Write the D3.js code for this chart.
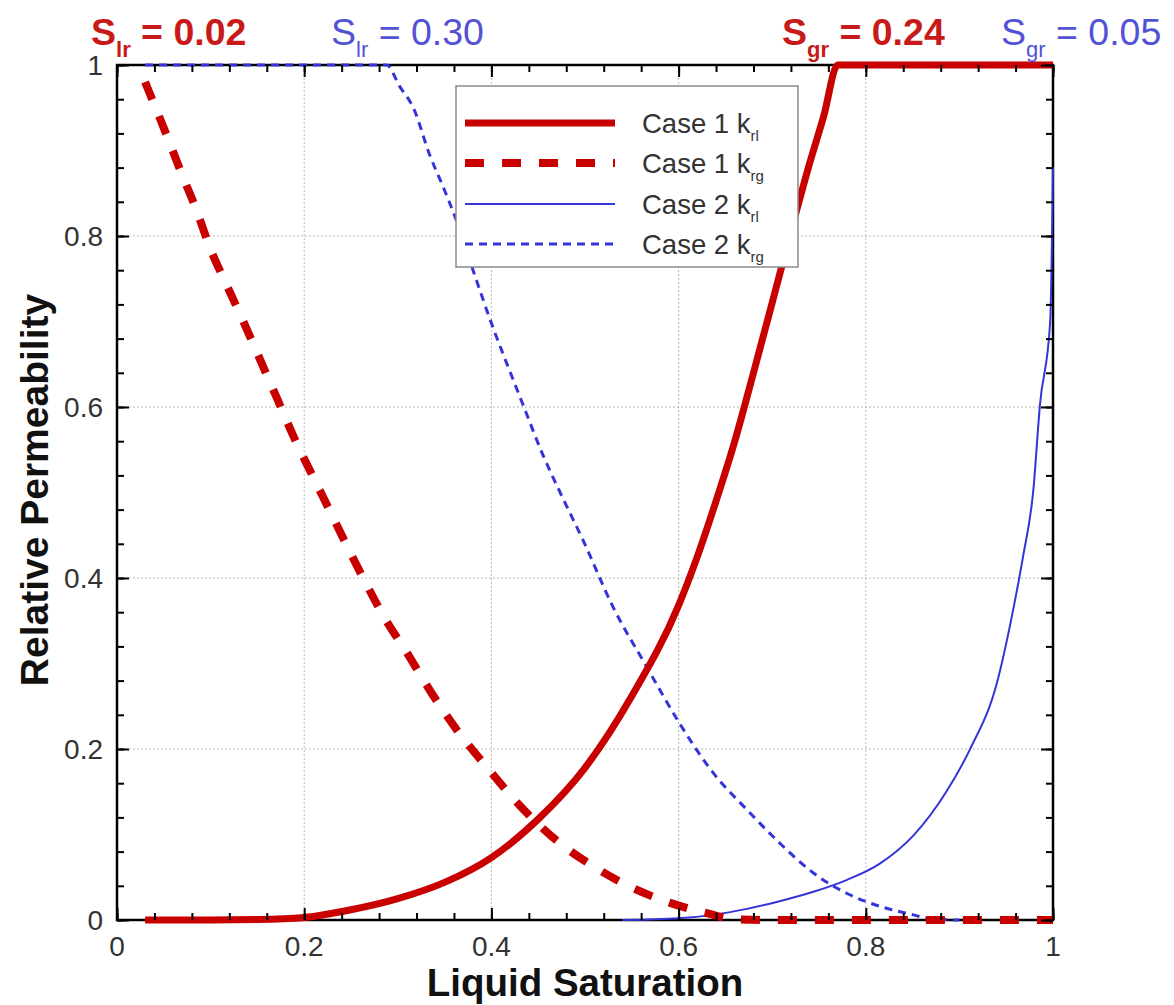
<!DOCTYPE html>
<html>
<head>
<meta charset="utf-8">
<script src="https://cdn.jsdelivr.net/npm/d3@7"></script>
<style>
  html, body { margin: 0; padding: 0; background: #fff; }
  svg { display: block; font-family: "Liberation Sans", Arial, Helvetica, sans-serif; }
</style>
</head>
<body>
<svg id="chart" width="1174" height="1005"></svg>
<script>
// ---------------- data ----------------
const xTicks = [0, 0.2, 0.4, 0.6, 0.8, 1];
const yTicks = [0, 0.2, 0.4, 0.6, 0.8, 1];
const xTickLabels = ["0", "0.2", "0.4", "0.6", "0.8", "1"];
const yTickLabels = ["0", "0.2", "0.4", "0.6", "0.8", "1"];

// Case 1 liquid relative permeability (S, k)
const case1Krl = [
  [0.03,0],[0.10,0],[0.15,0.0005],[0.20,0.003],[0.25,0.012],[0.30,0.025],
  [0.35,0.044],[0.40,0.073],[0.45,0.118],[0.50,0.178],[0.55,0.262],
  [0.60,0.368],[0.62,0.425],[0.64,0.490],[0.66,0.560],[0.68,0.640],
  [0.70,0.722],[0.72,0.805],[0.74,0.885],[0.755,0.940],[0.77,1],[1.0,1]
];
// Case 1 gas relative permeability
const case1Krg = [
  [0.03,0.98],[0.053,0.918],[0.069,0.873],[0.085,0.830],[0.099,0.787],
  [0.117,0.743],[0.135,0.700],[0.153,0.655],[0.171,0.610],[0.188,0.567],
  [0.206,0.526],[0.220,0.495],[0.263,0.400],[0.285,0.355],[0.310,0.312],
  [0.334,0.269],[0.366,0.218],[0.395,0.179],[0.431,0.133],[0.473,0.090],
  [0.510,0.062],[0.548,0.039],[0.591,0.020],[0.630,0.008],[0.66,0.001],
  [0.70,0],[1.0,0]
];
// Case 2 liquid relative permeability
const case2Krl = [
  [0.54,0],[0.60,0.002],[0.637,0.006],[0.673,0.013],[0.708,0.022],
  [0.744,0.033],[0.780,0.047],[0.815,0.066],[0.851,0.099],[0.886,0.150],
  [0.911,0.199],[0.940,0.277],[0.958,0.366],[0.968,0.425],[0.979,0.503],
  [0.986,0.602],[0.997,0.700],[1.0,0.88]
];
// Case 2 gas relative permeability
const case2Krg = [
  [0.03,1],[0.288,1],[0.302,0.975],[0.317,0.949],[0.334,0.895],[0.349,0.856],
  [0.363,0.817],[0.381,0.758],[0.402,0.692],[0.420,0.641],[0.434,0.602],
  [0.455,0.544],[0.473,0.501],[0.498,0.444],[0.530,0.366],[0.566,0.296],
  [0.601,0.230],[0.637,0.172],[0.673,0.129],[0.708,0.090],[0.744,0.055],
  [0.780,0.031],[0.815,0.016],[0.851,0.006],[0.87,0.001],[0.90,0]
];

const legendNames = ["Case 1 k", "Case 1 k", "Case 2 k", "Case 2 k"];
const legendSubs = ["rl", "rg", "rl", "rg"];

const topLabels = [
  { main: "S", sub: "lr", rest: " = 0.02", color: "#c81a1a", bold: true },
  { main: "S", sub: "lr", rest: " = 0.30", color: "#5252d4", bold: false },
  { main: "S", sub: "gr", rest: " = 0.24", color: "#c81a1a", bold: true },
  { main: "S", sub: "gr", rest: " = 0.05", color: "#5252d4", bold: false }
];

// ---------------- layout ----------------
const RED = "#c80000", BLUE = "#3434d8";
const margin = { left: 117, right: 1053, top: 65, bottom: 920 };
const svg = d3.select("#chart");
svg.append("rect").attr("width", 1174).attr("height", 1005).attr("fill", "#fff");

const x = d3.scaleLinear().domain([0, 1]).range([margin.left, margin.right]);
const y = d3.scaleLinear().domain([0, 1]).range([margin.bottom, margin.top]);

// grid
const grid = svg.append("g");
xTicks.slice(1, -1).forEach(t => {
  grid.append("line").attr("x1", x(t)).attr("x2", x(t)).attr("y1", y(0)).attr("y2", y(1))
    .attr("stroke", "#b8b8b8").attr("stroke-width", 1).attr("stroke-dasharray", "2,2");
});
yTicks.slice(1, -1).forEach(t => {
  grid.append("line").attr("y1", y(t)).attr("y2", y(t)).attr("x1", x(0)).attr("x2", x(1))
    .attr("stroke", "#b8b8b8").attr("stroke-width", 1).attr("stroke-dasharray", "2,2");
});

// frame
svg.append("rect").attr("x", x(0)).attr("y", y(1)).attr("width", x(1) - x(0)).attr("height", y(0) - y(1))
  .attr("fill", "none").attr("stroke", "#000").attr("stroke-width", 2.5);

// curves
const line = d3.line().x(d => x(d[0])).y(d => y(d[1])).curve(d3.curveMonotoneX);
const series = [
  { data: case2Krg, color: BLUE, width: 3, dash: "8,6" },
  { data: case2Krl, color: BLUE, width: 2, dash: null },
  { data: case1Krg, color: RED, width: 8, dash: "19,18" },
  { data: case1Krl, color: RED, width: 7, dash: null }
];
series.forEach(s => {
  svg.append("path").datum(s.data).attr("d", line)
    .attr("fill", "none").attr("stroke", s.color).attr("stroke-width", s.width)
    .attr("stroke-dasharray", s.dash);
});

// ticks (inward on all sides) via axes
const minor = d3.range(0, 1.0001, 0.04).map(v => +v.toFixed(2));
function tickAxis(axisGen, vals, size, transform) {
  const g = svg.append("g").attr("transform", transform)
    .call(axisGen.tickValues(vals).tickSize(size).tickFormat(""));
  g.select(".domain").remove();
  g.selectAll(".tick line").attr("stroke", "#000").attr("stroke-width", 2);
}
tickAxis(d3.axisTop(x), minor, 7, `translate(0,${y(0)})`);
tickAxis(d3.axisTop(x), xTicks, 12, `translate(0,${y(0)})`);
tickAxis(d3.axisBottom(x), minor, 7, `translate(0,${y(1)})`);
tickAxis(d3.axisBottom(x), xTicks, 12, `translate(0,${y(1)})`);
tickAxis(d3.axisRight(y), minor, 7, `translate(${x(0)},0)`);
tickAxis(d3.axisRight(y), yTicks, 12, `translate(${x(0)},0)`);
tickAxis(d3.axisLeft(y), minor, 7, `translate(${x(1)},0)`);
tickAxis(d3.axisLeft(y), yTicks, 12, `translate(${x(1)},0)`);

// tick labels
xTicks.forEach((t, i) => {
  svg.append("text").attr("x", x(t)).attr("y", 956).attr("text-anchor", "middle")
    .attr("font-size", 28).attr("fill", "#333").text(xTickLabels[i]);
});
yTicks.forEach((t, i) => {
  svg.append("text").attr("x", 103).attr("y", y(t) + 10).attr("text-anchor", "end")
    .attr("font-size", 28).attr("fill", "#333").text(yTickLabels[i]);
});

// axis titles
svg.append("text").attr("x", 585).attr("y", 996).attr("text-anchor", "middle")
  .attr("font-size", 38.5).attr("font-weight", "bold").attr("fill", "#111").text("Liquid Saturation");
svg.append("text").attr("transform", `translate(48,490) rotate(-90)`)
  .attr("text-anchor", "middle").attr("font-size", 39).attr("font-weight", "bold")
  .attr("fill", "#111").text("Relative Permeability");

// top labels
const topX = [91, 331, 782, 1001];
topLabels.forEach((d, i) => {
  const t = svg.append("text").attr("x", topX[i]).attr("y", 45)
    .attr("font-size", 37.5).attr("font-weight", d.bold ? "bold" : "normal").attr("fill", d.color);
  t.append("tspan").text(d.main);
  t.append("tspan").attr("font-size", 22).attr("dy", 12).text(d.sub);
  t.append("tspan").attr("dy", -12).text(d.rest);
});

// legend
const lg = svg.append("g");
lg.append("rect").attr("x", 456).attr("y", 86).attr("width", 342).attr("height", 181)
  .attr("fill", "#fff").attr("stroke", "#8a8a8a").attr("stroke-width", 1.5);
const rowY = [123, 163, 204, 244];
const legendSeries = [series[3], series[2], series[1], series[0]];
legendSeries.forEach((s, i) => {
  lg.append("line").attr("x1", 465).attr("x2", 615).attr("y1", rowY[i]).attr("y2", rowY[i])
    .attr("stroke", s.color).attr("stroke-width", s.width).attr("stroke-dasharray", s.dash);
  const t = lg.append("text").attr("x", 642).attr("y", rowY[i] + 10)
    .attr("font-size", 27.5).attr("fill", "#333");
  t.append("tspan").text(legendNames[i]);
  t.append("tspan").attr("font-size", 15).attr("dy", 8).text(legendSubs[i]);
});
</script>
</body>
</html>
